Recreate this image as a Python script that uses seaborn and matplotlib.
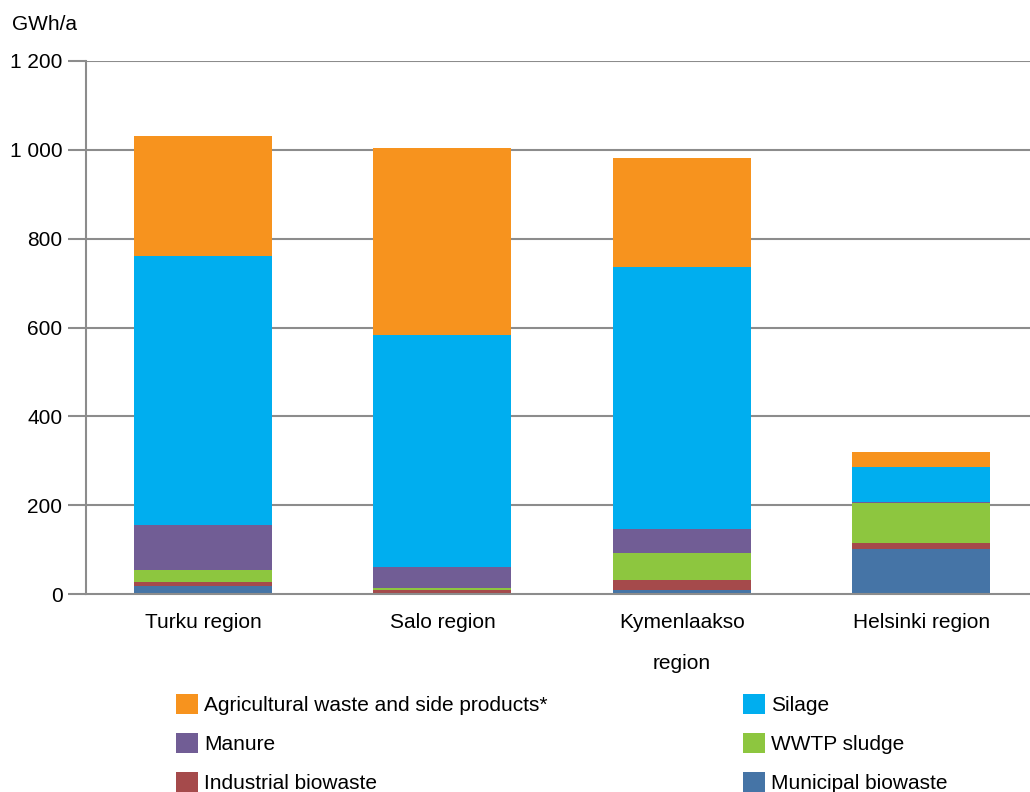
import matplotlib
matplotlib.use("Agg")
import matplotlib.pyplot as plt
from matplotlib.patches import Patch
import numpy as np
import pandas as pd
import seaborn as sns

# Biogas potential by region and feedstock (GWh/a)
regions = ["Turku region", "Salo region", "Kymenlaakso\nregion", "Helsinki region"]
municipal = [18, 0, 9, 101]
industrial = [9, 9, 22, 14]
wwtp = [27, 4, 61, 89]
manure = [101, 48, 54, 3]
silage = [605, 523, 591, 78]
agricultural = [271, 420, 245, 34]

yticks = [0, 200, 400, 600, 800, 1000, 1200]
ytick_labels = ["0", "200", "400", "600", "800", "1 000", "1 200"]

series = [
    ("Municipal biowaste", municipal, "#4574A6"),
    ("Industrial biowaste", industrial, "#A54A4B"),
    ("WWTP sludge", wwtp, "#8DC63F"),
    ("Manure", manure, "#715D95"),
    ("Silage", silage, "#00AEEF"),
    ("Agricultural waste and side products*", agricultural, "#F7931E"),
]

sns.set_theme(style="white")
plt.rcParams["font.family"] = ["Liberation Sans", "DejaVu Sans"]
plt.rcParams["text.color"] = "#000000"

FS = 15

fig = plt.figure(figsize=(10.30, 7.92), dpi=100)
ax = fig.add_axes([86 / 1030, 1 - 594 / 792, 950 / 1030, (594 - 61) / 792])

# Stacked bars: draw cumulative totals from the top layer down
cum = np.cumsum(np.array([s[1] for s in series], dtype=float), axis=0)
for i in range(len(series) - 1, -1, -1):
    df = pd.DataFrame({"region": regions, "value": cum[i]})
    sns.barplot(data=df, x="region", y="value", color=series[i][2],
                saturation=1, width=0.577, linewidth=0, ax=ax, zorder=3)

ax.set_xlim(-0.489, 3.48)
ax.set_ylim(0, 1200)
ax.set_yticks(yticks)
ax.set_yticklabels(ytick_labels)
ax.set_xlabel("")
ax.set_ylabel("")
for lab in ax.get_xticklabels():
    lab.set_linespacing(2.45)
ax.tick_params(axis="x", length=0, pad=14, labelsize=FS, labelcolor="#000000")
ax.tick_params(axis="y", length=13, width=1.5, color="#8c8c8c", pad=4,
               labelsize=FS, labelcolor="#000000", left=True)

for y in yticks[1:]:
    ax.axhline(y, color="#8c8c8c", linewidth=1.5, zorder=1)
for side in ["top", "right"]:
    ax.spines[side].set_visible(False)
for side in ["left", "bottom"]:
    ax.spines[side].set_color("#8c8c8c")
    ax.spines[side].set_linewidth(1.5)
    ax.spines[side].set_zorder(4)

fig.text(12 / 1030, 1 - 25 / 792, "GWh/a", fontsize=FS, va="center", ha="left")

def legend_at(items, x, y):
    handles = [Patch(facecolor=c, edgecolor="none", label=n) for n, c in items]
    fig.legend(handles=handles, loc="upper left", bbox_to_anchor=(x, y),
               frameon=False, fontsize=FS, handlelength=1.05, handleheight=1.1,
               handletextpad=0.3, labelspacing=0.85, borderpad=0, borderaxespad=0,
               labelcolor="#000000")

lookup = {n: c for n, _, c in series}
legend_at([(n, lookup[n]) for n in ["Agricultural waste and side products*",
                                     "Manure", "Industrial biowaste"]],
          176 / 1030, 1 - 694 / 792)
legend_at([(n, lookup[n]) for n in ["Silage", "WWTP sludge", "Municipal biowaste"]],
          743 / 1030, 1 - 694 / 792)

fig.savefig("out.png", dpi=100)
